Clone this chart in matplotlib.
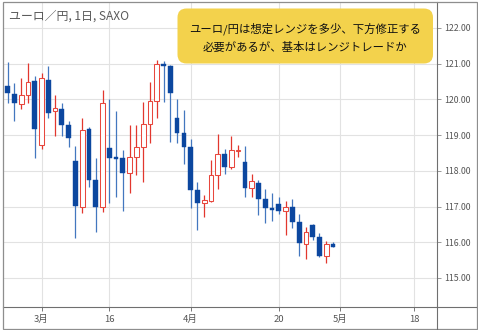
import matplotlib
matplotlib.use("Agg")
import matplotlib.pyplot as plt
from matplotlib.patches import FancyBboxPatch, Rectangle
from matplotlib.lines import Line2D
import numpy as np
import pandas as pd

plt.rcParams['font.family'] = ['Noto Sans CJK JP', 'DejaVu Sans']

# EUR/JPY daily candles (SAXO), 2020-02-21 .. 2020-04-30
dates = pd.bdate_range('2020-02-21', '2020-04-30')
opens = [120.75, 120.38, 120.15, 119.86, 120.12, 120.52,
         118.72, 120.54, 119.68, 119.72, 119.27,
         118.28, 116.99, 119.17, 117.74, 116.99,
         118.65, 118.38, 118.37, 117.93, 118.38,
         118.66, 119.31, 119.96, 120.99, 120.94,
         119.49, 119.07, 118.68, 117.46, 117.11,
         117.16, 117.88, 118.47, 118.10, 118.55,
         118.24, 117.53, 117.67, 117.20, 116.95,
         117.06, 116.87, 116.98, 116.57, 115.95,
         116.48, 116.15, 115.61, 115.94]
highs = [121.10, 121.06, 120.45, 120.59, 121.02, 120.66,
         120.74, 120.94, 120.12, 119.90, 119.39,
         118.69, 119.47, 119.23, 118.35, 120.26,
         120.00, 119.68, 118.58, 119.28, 119.28,
         119.94, 120.50, 121.11, 121.08, 120.96,
         120.00, 119.70, 118.88, 117.69, 117.32,
         118.30, 119.03, 118.60, 118.97, 118.72,
         118.69, 117.92, 117.74, 117.48, 117.39,
         117.27, 117.15, 117.20, 116.80, 116.43,
         116.50, 116.25, 116.04, 116.01]
lows = [120.60, 119.89, 119.40, 119.72, 119.91, 118.37,
        118.60, 119.49, 118.97, 118.97, 118.68,
        116.11, 116.82, 117.55, 116.29, 116.85,
        117.09, 117.27, 116.87, 117.37, 117.88,
        117.69, 118.79, 119.47, 119.94, 118.81,
        118.78, 118.19, 116.95, 116.34, 116.71,
        117.13, 117.50, 117.91, 118.04, 118.39,
        117.27, 117.27, 116.76, 116.53, 116.59,
        116.78, 116.20, 116.40, 115.62, 115.52,
        116.06, 115.58, 115.43, 115.87]
closes = [120.98, 120.17, 119.91, 120.11, 120.50, 119.16,
          120.59, 119.63, 119.75, 119.27, 118.93,
          117.02, 119.14, 117.74, 116.99, 119.91,
          118.37, 118.32, 117.95, 118.38, 118.66,
          119.31, 119.96, 121.00, 120.94, 120.19,
          119.07, 118.68, 117.46, 117.11, 117.18,
          117.88, 118.47, 118.11, 118.58, 118.59,
          117.53, 117.71, 117.20, 116.95, 116.90,
          116.87, 116.98, 116.57, 115.97, 116.29,
          116.15, 115.62, 115.94, 115.88]

tick_dates = ['2020-03-02', '2020-03-16', '2020-04-01',
              '2020-04-20', '2020-05-01', '2020-05-18']
tick_labels = ['3月', '16', '4月', '20', '5月', '18']
price_ticks = [115, 116, 117, 118, 119, 120, 121, 122]

title = 'ユーロ／円, 1日, SAXO'
note_lines = ['ユーロ/円は想定レンジを多少、下方修正する',
              '必要があるが、基本はレンジトレードか']

UP_EDGE = '#e8473d'
UP_WICK = '#e2372e'
DOWN_BODY = '#0c479f'
DOWN_WICK = '#4377bf'

W, H = 478, 330
fig = plt.figure(figsize=(W / 100, H / 100), dpi=100)
fig.patch.set_facecolor('white')

# plot area: x 3..437 px, y 2..307 px (from top)
ax = fig.add_axes([3 / W, (H - 307) / H, 434 / W, 305 / H])

# trading-day positions, extended past the data so the May ticks have a slot
cal = pd.bdate_range('2020-02-21', '2020-05-29')
pos = {d: i for i, d in enumerate(cal)}
x = np.array([pos[d] for d in dates])

o = np.array(opens)
h = np.array(highs)
l = np.array(lows)
c = np.array(closes)
up = c >= o

ax.vlines(x[up], l[up], h[up], color=UP_WICK, lw=0.9, zorder=2)
ax.vlines(x[~up], l[~up], h[~up], color=DOWN_WICK, lw=0.9, zorder=2)

body_lo = np.minimum(o, c)
body_h = np.maximum(np.abs(c - o), 0.035)
ax.bar(x[up], body_h[up], bottom=body_lo[up], width=0.7,
       facecolor='white', edgecolor=UP_EDGE, linewidth=0.75, zorder=3)
ax.bar(x[~up], body_h[~up], bottom=body_lo[~up], width=0.7,
       facecolor=DOWN_BODY, edgecolor=DOWN_BODY, linewidth=0.3, zorder=3)

x0 = pos[pd.Timestamp('2020-03-02')]
ax.set_xlim(x0 - 38.5 / 6.78, x0 + 395.5 / 6.78)
ax.set_ylim(122 - 279 / 35.71, 122 + 26 / 35.71)

ax.set_xticks([pos[pd.Timestamp(d)] for d in tick_dates])
ax.set_xticklabels(tick_labels)
ax.yaxis.tick_right()
ax.set_yticks(price_ticks)
ax.set_yticklabels([f'{v:.2f}' for v in price_ticks])

ax.grid(True, color='#e2e2e2', lw=0.8)
ax.set_axisbelow(True)
ax.tick_params(axis='x', length=3, width=0.7, color='#777', pad=3,
               labelsize=6.8, labelcolor='#555')
ax.tick_params(axis='y', length=3, width=0.7, color='#999', pad=2,
               labelsize=6.3, labelcolor='#555')

for side in ('left', 'top'):
    ax.spines[side].set_visible(False)
for side in ('bottom', 'right'):
    ax.spines[side].set_color('#6f6f6f')
    ax.spines[side].set_linewidth(0.8)

# outer frame and axis-line extensions into the price column / date row
inch = fig.dpi_scale_trans
fig.add_artist(Rectangle((2.5 / 100, (H - 328.5) / 100), 474 / 100, 327 / 100,
                         transform=inch, fill=False, edgecolor='#8e8e8e', lw=0.9))
fig.add_artist(Line2D([437 / 100, 476.5 / 100], [(H - 307) / 100] * 2,
                      transform=inch, color='#6f6f6f', lw=0.8))
fig.add_artist(Line2D([437 / 100] * 2, [(H - 328.5) / 100, (H - 307) / 100],
                      transform=inch, color='#6f6f6f', lw=0.8))

fig.text(9 / W, 1 - 16 / H, title, ha='left', va='center',
         fontsize=8.6, color='#5a5a5a')

# yellow note box
fig.add_artist(FancyBboxPatch((177.5 / 100, (H - 63.5) / 100), 255.5 / 100, 55 / 100,
                              boxstyle='round,pad=0,rounding_size=0.09',
                              transform=inch, facecolor='#f3d24c', edgecolor='none'))
fig.text(305.5 / W, 1 - 29 / H, note_lines[0], ha='center', va='center',
         fontsize=8.2, color='#111')
fig.text(305.5 / W, 1 - 47 / H, note_lines[1], ha='center', va='center',
         fontsize=8.2, color='#111')

fig.savefig('out.png', dpi=100)
